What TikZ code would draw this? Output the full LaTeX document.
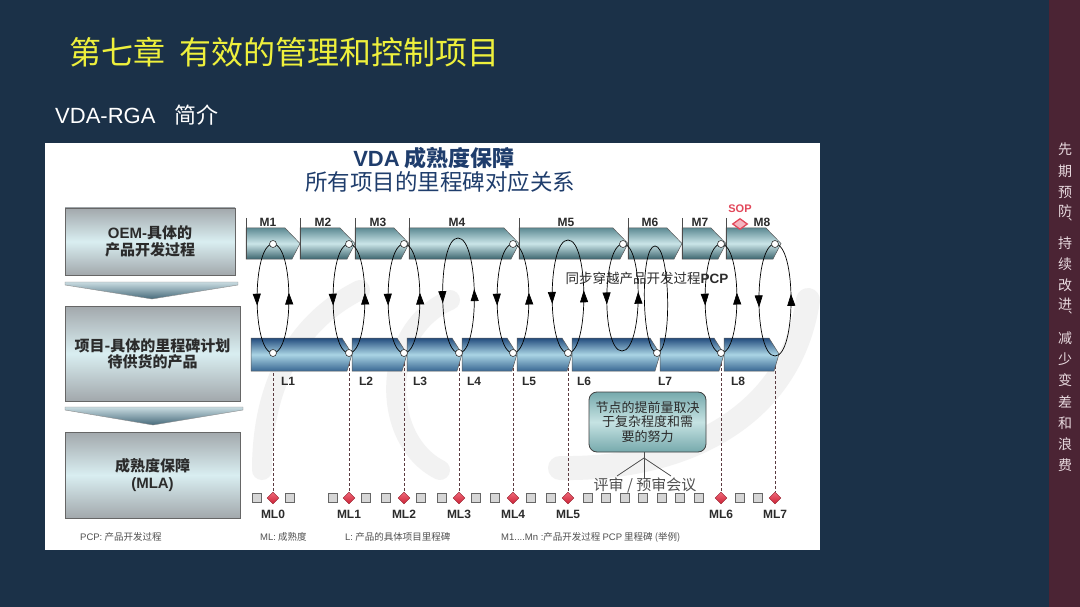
\documentclass[tikz,border=0pt]{standalone}
\usepackage{fontspec}
\setmainfont{Liberation Sans}
\newfontfamily\cjk{Noto Sans CJK SC}
\usetikzlibrary{shapes.geometric,decorations.markings,arrows.meta}
\definecolor{slidebg}{HTML}{1B3148}
\definecolor{sidebarc}{HTML}{4B2434}
\definecolor{titleyel}{HTML}{EEF03C}
\definecolor{navyt}{HTML}{1F3D6C}
\definecolor{boxgrey}{HTML}{A2A8AC}
\definecolor{boxlight}{HTML}{D9EEF1}
\definecolor{chevtop}{HTML}{C9DCE1}
\definecolor{chevbot}{HTML}{46697A}
\definecolor{mtop}{HTML}{5E8B94}
\definecolor{mmid}{HTML}{CBE5E8}
\definecolor{mbot}{HTML}{3D666F}
\definecolor{ltop}{HTML}{224B7D}
\definecolor{lmid}{HTML}{AAD4E4}
\definecolor{lbot}{HTML}{3A6893}
\definecolor{darktxt}{HTML}{2B2B2B}
\definecolor{greytxt}{HTML}{505050}
\definecolor{mlred}{HTML}{CC2236}
\definecolor{mlredl}{HTML}{F06A7A}
\definecolor{sopred}{HTML}{E2475A}
\definecolor{soppink}{HTML}{F5B5C0}
\definecolor{sqfill}{HTML}{D6D6D6}
\definecolor{notetop}{HTML}{76A9AC}
\definecolor{notemid}{HTML}{C6E3E3}
\definecolor{sidetxt}{HTML}{E8DADF}
\definecolor{dashc}{HTML}{5A3A40}
\definecolor{wmc}{HTML}{F2F2F2}
\newcommand\Mseg[2]{\path[mseg] (#1,228) -- ({#2-15},228) -- (#2,243.5) -- ({#2-8},259) -- (#1,259) -- cycle;
  \draw[tickl] (#1,218) -- (#1,259);}
\newcommand\Lseg[2]{\path[lseg] (#1,338) -- ({#2-10},338) -- (#2,354) -- ({#2-5},371) -- (#1,371) -- cycle;}
\newcommand\Dun{\rlap{\kern-4pt\raisebox{-4pt}{\fontsize{11}{11}\selectfont 、}}}
\tikzset{
  lbox/.style={draw=black!60, line width=0.6pt, top color=boxgrey, bottom color=boxgrey, middle color=boxlight, align=center, text=darktxt, inner sep=0pt},
  chev/.style={draw=black!45, line width=0.4pt, top color=chevtop, bottom color=chevbot},
  mseg/.style={draw=black!65, line width=0.5pt, top color=mtop, bottom color=mbot, middle color=mmid},
  lseg/.style={draw=black!65, line width=0.5pt, top color=ltop, bottom color=lbot, middle color=lmid},
  tickl/.style={draw=black!70, line width=0.6pt},
  mlab/.style={font=\bfseries\fontsize{12}{12}\selectfont, text=darktxt, inner sep=0pt},
  loopl/.style={draw=black, line width=0.7pt, postaction={decorate}, decoration={markings, mark=at position 0.56 with {\arrow{Triangle[width=8pt,length=12pt]}}}},
  loopr/.style={draw=black, line width=0.7pt, postaction={decorate}, decoration={markings, mark=at position 0.55 with {\arrow{Triangle[width=8pt,length=12pt]}}}},
  loopn/.style={draw=black, line width=0.7pt},
  knot/.style={circle, draw=black!80, fill=white, line width=0.6pt, minimum size=7pt, inner sep=0pt},
  sq/.style={rectangle, draw=black!60, fill=sqfill, line width=0.5pt, minimum size=9pt, inner sep=0pt},
  mld/.style={diamond, draw=mlred!70!black, line width=0.4pt, top color=mlredl, bottom color=mlred, minimum width=12pt, minimum height=12pt, inner sep=0pt},
  dashl/.style={draw=dashc, line width=0.6pt, dash pattern=on 3pt off 2pt},
  foot/.style={font=\cjk\fontsize{9.5}{9.5}\selectfont, text=greytxt, anchor=west, inner sep=0pt},
  side/.style={font=\cjk\fontsize{14}{14}\selectfont, text=sidetxt, inner sep=0pt},
  wm/.style={draw=wmc, line cap=round}
}
\begin{document}
\begin{tikzpicture}[x=1pt,y=-1pt]
\useasboundingbox (0,0) rectangle (1080,607);
% slide background
\fill[slidebg] (0,0) rectangle (1080,607);
\fill[sidebarc] (1049,0) rectangle (1080,607);
% titles
\node[anchor=west, text=titleyel, font=\cjk\fontsize{32}{32}\selectfont, inner sep=0pt] (title) at (69,52) {第七章\hspace{14pt}有效的管理和控制项目};
\node[anchor=west, text=white, font=\fontsize{22}{22}\selectfont, inner sep=0pt] (subtitle) at (55,115) {VDA-RGA\hspace{19pt}{\cjk 简介}};
% sidebar text
\foreach \c/\yy [count=\i] in {先/149,期/171,预/192,防\Dun/213,持/243.5,续/264,改/285,进\Dun/306,减/338,少/359,变/380,差/402,和/423,浪/444,费/465}
  \node[side] (s\i) at (1065,\yy) {\c};
% diagram panel
\fill[white] (45,143) rectangle (820,550);
\draw[wm, line width=20pt] (262,470) .. controls (262,380) and (300,320) .. (360,290);
\draw[wm, line width=20pt] (440,470) .. controls (380,440) and (380,330) .. (450,300);
\draw[wm, line width=24pt] (560,468) .. controls (680,470) and (790,420) .. (808,300);
% diagram title
\node[font=\cjk\bfseries\fontsize{22}{22}\selectfont, text=navyt, inner sep=0pt] (dt1) at (434,158) {{\rmfamily VDA} 成熟度保障};
\node[font=\cjk\fontsize{22.5}{22.5}\selectfont, text=navyt, inner sep=0pt] (dt2) at (440,182) {所有项目的里程碑对应关系};
% left boxes
\node[lbox, minimum width=170pt, minimum height=67pt, font=\cjk\bfseries\fontsize{15}{17}\selectfont] (box1) at (150,241.5) {{\rmfamily OEM-}具体的\\产品开发过程};
\path[chev] (65,282) -- (238,282) -- (238,285) -- (152,299) -- (65,285) -- cycle;
\node[lbox, minimum width=175pt, minimum height=95pt, font=\cjk\bfseries\fontsize{15}{16}\selectfont] (box2) at (152.5,353.5) {项目-具体的里程碑计划\\待供货的产品};
\path[chev] (65,407) -- (243,407) -- (243,410) -- (153,425) -- (65,410) -- cycle;
\node[lbox, minimum width=175pt, minimum height=86pt, font=\cjk\bfseries\fontsize{15}{17}\selectfont] (box3) at (152.5,475) {成熟度保障\\{\rmfamily (MLA)}};
% knot coordinates
\coordinate (t1) at (273,244); \coordinate (t2) at (349,244); \coordinate (t3) at (404,244);
\coordinate (t4) at (458,238); \coordinate (t5) at (513,244); \coordinate (t6) at (568,240);
\coordinate (t7) at (623,244); \coordinate (t8) at (655,246); \coordinate (t9) at (721,244);
\coordinate (t10) at (775,244);
\coordinate (b1) at (273,353); \coordinate (b2) at (349,353); \coordinate (b3) at (404,353);
\coordinate (b4) at (459,353); \coordinate (b5) at (513,353); \coordinate (b6) at (568,353);
\coordinate (b7) at (622,351); \coordinate (b8) at (657,353); \coordinate (b9) at (721,353);
\coordinate (b10) at (775,356);
% ML row
\foreach \xx [count=\i] in {256.6,290,332.5,365.8,386,421,441.6,475.7,495,530.4,550.8,587.8,606,624.7,643,661.8,680,698.7,739.4,758}
  \node[sq] (q\i) at (\xx,498) {};
\foreach \xx/\n in {273/0,349/1,404/2,459/3,513/4,568/5,721/6,775/7}{
  \node[mld] (ml\n) at (\xx,498) {};
  \node[font=\bfseries\fontsize{12}{12}\selectfont, text=darktxt, inner sep=0pt] (mll\n) at (\xx,514) {ML\n};
}
% dashed lines
\draw[dashl] (b1) -- (ml0.north);
\draw[dashl] (b2) -- (ml1.north);
\draw[dashl] (b3) -- (ml2.north);
\draw[dashl] (b4) -- (ml3.north);
\draw[dashl] (b5) -- (ml4.north);
\draw[dashl] (b6) -- (ml5.north);
\draw[dashl] (b9) -- (ml6.north);
\draw[dashl] (b10) -- (ml7.north);
% M row
\Mseg{246}{300}\Mseg{300}{355}\Mseg{355}{409}\Mseg{409}{519}
\Mseg{519}{628}\Mseg{628}{682}\Mseg{682}{726}\Mseg{726}{781}
% L row
\Lseg{251}{352}\Lseg{352}{407}\Lseg{407}{462}\Lseg{462}{517}
\Lseg{517}{572}\Lseg{572}{660}\Lseg{660}{724}\Lseg{724}{779}
% M labels
\foreach \xx/\n in {268/1,323/2,378/3,457/4,566/5,650/6,700/7,762/8}
  \node[mlab] (m\n) at (\xx,222) {M\n};
% L labels
\foreach \xx/\n in {288/1,366/2,420/3,474/4,529/5,584/6,665/7,738/8}
  \node[mlab] (l\n) at (\xx,381) {L\n};
% SOP
\node[text=sopred, font=\bfseries\fontsize{11}{11}\selectfont, inner sep=0pt] (sop) at (740,209) {SOP};
\node[diamond, draw=sopred, line width=1.3pt, fill=soppink, minimum width=15pt, minimum height=11pt, inner sep=0pt] (sopd) at (740,224) {};
% loops
\foreach \k/\lo in {1/0.5,2/0.5,3/0.5,4/0.47,5/0.5,6/0.48,7/0.5,9/0.5,10/0.49}{
  \draw[loopl] (t\k) to[out=180,in=180,looseness=\lo] (b\k);
  \draw[loopr] (b\k) to[out=0,in=0,looseness=\lo] (t\k);
}
\draw[loopn] (t8) to[out=180,in=180,looseness=0.37] (b8);
\draw[loopn] (b8) to[out=0,in=0,looseness=0.37] (t8);
% knots
\foreach \k in {1,2,3,5,7,9,10} \node[knot] (kt\k) at (t\k) {};
\foreach \k in {1,2,3,4,5,6,8,9} \node[knot] (kb\k) at (b\k) {};
% PCP text
\node[font=\cjk\fontsize{13.5}{13.5}\selectfont, text=darktxt, inner sep=0pt] (pcp) at (647,278) {同步穿越产品开发过程{\rmfamily\bfseries PCP}};
% callout
\node[draw=black!75, line width=0.8pt, rounded corners=8pt, top color=notetop, bottom color=notetop, middle color=notemid, minimum width=117pt, minimum height=60pt, align=center, inner sep=0pt, font=\cjk\fontsize{13}{14.5}\selectfont, text=darktxt] (note) at (647.5,422) {节点的提前量取决\\于复杂程度和需\\要的努力};
\coordinate (apex) at (644,458);
\coordinate (rv1) at (617,476);
\coordinate (rv2) at (644,479);
\coordinate (rv3) at (671,476);
\draw[black!70, line width=0.8pt] (note.south -| apex) -- (rv2);
\draw[black!70, line width=0.8pt] (apex) -- (rv1);
\draw[black!70, line width=0.8pt] (apex) -- (rv3);
\node[font=\cjk\fontsize{15}{15}\selectfont, text=greytxt, inner sep=0pt] (review) at (645,485) {评审 / 预审会议};
% footer
\node[foot] (f1) at (80,537) {{\rmfamily PCP:} 产品开发过程};
\node[foot] (f2) at (260,537) {{\rmfamily ML:} 成熟度};
\node[foot] (f3) at (345,537) {{\rmfamily L:} 产品的具体项目里程碑};
\node[foot] (f4) at (501,537) {{\rmfamily M1....Mn :}产品开发过程 {\rmfamily PCP} 里程碑 (举例)};
\end{tikzpicture}
\end{document}
